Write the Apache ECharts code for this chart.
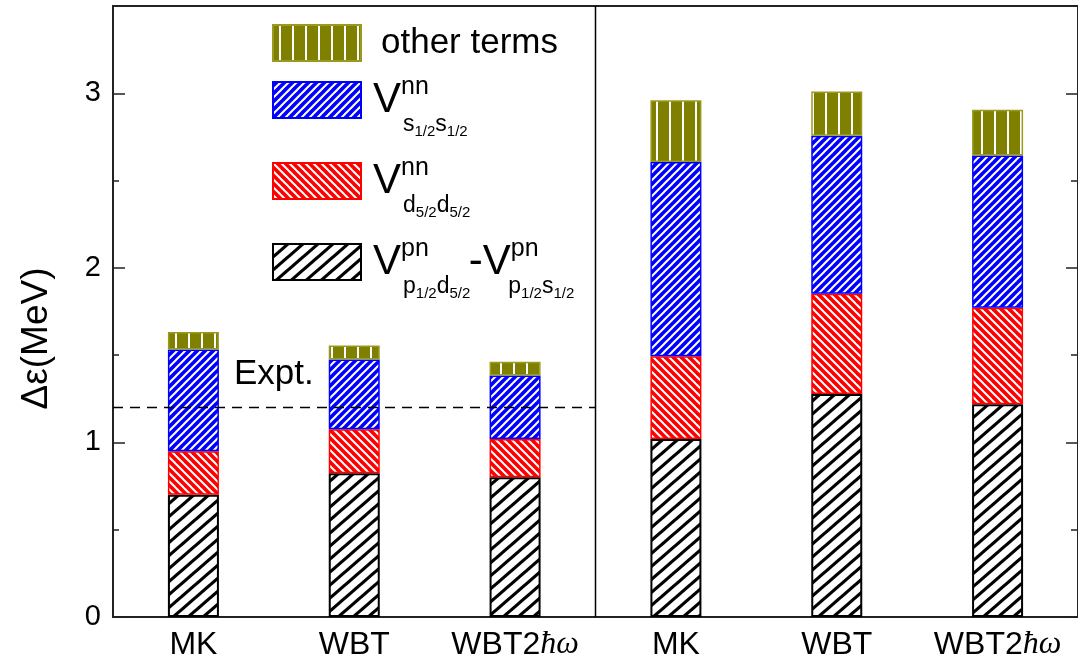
<!DOCTYPE html>
<html><head><meta charset="utf-8">
<script src="https://cdn.jsdelivr.net/npm/echarts@6/dist/echarts.min.js"></script>
<style>html,body{margin:0;padding:0;background:#fff}#c{width:1078px;height:662px}</style>
</head><body><div id="c"></div>
<script>
// ---- data ----
const categories = ['MK', 'WBT', 'WBT2ħω', 'MK', 'WBT', 'WBT2ħω'];
const vpnDiff = [0.700, 0.823, 0.800, 1.019, 1.277, 1.219];   // V^pn(p1/2 d5/2) - V^pn(p1/2 s1/2)
const vnnD52 = [0.250, 0.253, 0.219, 0.475, 0.574, 0.552];    // V^nn(d5/2 d5/2)
const vnnS12 = [0.582, 0.399, 0.365, 1.113, 0.906, 0.873];    // V^nn(s1/2 s1/2)
const otherTerms = [0.101, 0.080, 0.078, 0.353, 0.253, 0.262];
const exptValue = 1.2;
const panelSize = 3;
const majorTicks = [0, 1, 2, 3];
const minorTicks = [0.5, 1.5, 2.5];
const seriesNames = ['Vpn', 'Vdd', 'Vss', 'other terms'];

// ---- patterns ----
function hatch(bg, fg, w, h, lw, dir) {
  const c = document.createElement('canvas'); c.width = w; c.height = h;
  const g = c.getContext('2d');
  g.fillStyle = bg; g.fillRect(0, 0, w, h);
  g.strokeStyle = fg; g.lineWidth = lw;
  for (const s of [-w, 0, w]) {
    g.beginPath();
    if (dir > 0) { g.moveTo(s - w, 2 * h); g.lineTo(s + 2 * w, -h); }
    else { g.moveTo(s - w, -h); g.lineTo(s + 2 * w, 2 * h); }
    g.stroke();
  }
  return { image: c, repeat: 'repeat' };
}
function vlines(bg, fg, w, lw) {
  const c = document.createElement('canvas'); c.width = w; c.height = 4;
  const g = c.getContext('2d');
  g.fillStyle = bg; g.fillRect(0, 0, w, 4);
  g.fillStyle = fg; g.fillRect(Math.round(w / 2 - lw / 2), 0, lw, 4);
  return { image: c, repeat: 'repeat' };
}
const patBlack = hatch('#ffffff', '#000000', 15, 13, 3.2, 1);
const patRed = hatch('#ff0000', '#ffffff', 8, 8, 2, -1);
const patBlue = hatch('#0000ff', '#ffffff', 8, 8, 2, 1);
const patOlive = vlines('#808000', '#ffffff', 13, 2);

const FONT = '"Liberation Sans", Arial, sans-serif';

const legendText = {
  'other terms': '{po| }{t|other terms}',
  'Vss': '{gap| }\n{p| }{V|V}{sup|nn}\n{p| }{vw| }{s|s}{f|1/2}{s|s}{f|1/2}',
  'Vdd': '{gap| }\n{p| }{V|V}{sup|nn}\n{p| }{vw| }{s|d}{f|5/2}{s|d}{f|5/2}',
  'Vpn': '{gap| }\n{p| }{V|V}{sup|pn}{sp1| }{V|-V}{sup|pn}\n{p| }{vw| }{s|p}{f|1/2}{s|d}{f|5/2}{sw| }{s|p}{f|1/2}{s|s}{f|1/2}'
};

const chart = echarts.init(document.getElementById('c'));
const styles = [
  { color: patBlack, borderColor: '#000000', borderWidth: 2 },
  { color: patRed, borderColor: '#ff0000', borderWidth: 1.5 },
  { color: patBlue, borderColor: '#0000ff', borderWidth: 1.5 },
  { color: patOlive, borderColor: '#9a9a20', borderWidth: 1.5 }
];
const values = [vpnDiff, vnnD52, vnnS12, otherTerms];

const yBase = { type: 'value', min: 0, max: 3.5, splitLine: { show: false } };
const axisColor = '#222';
const tiny = { fontSize: 1, lineHeight: 1, height: 1 };

chart.setOption({
  animation: false,
  backgroundColor: '#fff',
  textStyle: { fontFamily: FONT },
  title: {
    text: 'Expt.', left: 234, top: 357, padding: 0,
    textStyle: { fontFamily: FONT, fontSize: 35, fontWeight: 'normal', color: '#000' }
  },
  grid: { left: 113, top: 6, width: 970, height: 611, show: true, borderColor: axisColor, borderWidth: 2, backgroundColor: 'transparent' },
  legend: {
    data: ['other terms', 'Vss', 'Vdd', 'Vpn'],
    orient: 'vertical', left: 272, top: 23, padding: 0,
    itemWidth: 88, itemHeight: 36, itemGap: -7, icon: 'rect', selectedMode: false,
    formatter: n => legendText[n],
    textStyle: {
      color: '#000', fontFamily: FONT,
      rich: {
        gap: { fontSize: 1, lineHeight: 24, height: 24 },
        po: Object.assign({ width: 15 }, tiny),
        t: { fontSize: 35, lineHeight: 40, height: 40 },
        p: Object.assign({ width: 7 }, tiny),
        sp1: Object.assign({ width: 40 }, tiny),
        V: { fontSize: 42, lineHeight: 40, height: 40, verticalAlign: 'middle' },
        sup: { fontSize: 25, lineHeight: 15, height: 15, verticalAlign: 'top' },
        vw: Object.assign({ width: 30 }, tiny),
        sw: Object.assign({ width: 38 }, tiny),
        s: { fontSize: 23, lineHeight: 9, height: 9, verticalAlign: 'top' },
        f: { fontSize: 15, lineHeight: 24, height: 24, verticalAlign: 'top' }
      }
    }
  },
  xAxis: [
    {
      type: 'category', data: categories, gridIndex: 0,
      axisTick: { show: false },
      axisLine: { lineStyle: { color: axisColor, width: 2 } },
      axisLabel: {
        interval: 0, margin: 12, color: '#000', fontSize: 32, fontFamily: FONT,
        formatter: v => v.replace('ħω', '{i|ħω}'),
        rich: { i: { fontSize: 32, fontStyle: 'italic', fontFamily: '"Liberation Serif", "DejaVu Serif", serif' } }
      }
    },
    { type: 'value', min: 0, max: categories.length, show: false, gridIndex: 0 }
  ],
  yAxis: [
    Object.assign({}, yBase, {
      position: 'left',
      name: 'Δε(MeV)', nameLocation: 'middle', nameGap: 58, nameRotate: 90,
      nameTextStyle: { fontSize: 37, color: '#000', fontFamily: FONT, padding: [0, 54, 0, 0] },
      axisLine: { show: true, lineStyle: { color: axisColor, width: 2 } },
      axisTick: { show: true, inside: true, length: 12, customValues: majorTicks, lineStyle: { color: axisColor, width: 1.5 } },
      axisLabel: { customValues: majorTicks, margin: 12, color: '#000', fontSize: 29, fontFamily: FONT }
    }),
    Object.assign({}, yBase, {
      position: 'left',
      axisLine: { show: false },
      axisTick: { show: true, inside: true, length: 6, customValues: minorTicks, lineStyle: { color: axisColor, width: 1.5 } },
      axisLabel: { show: false }
    }),
    Object.assign({}, yBase, {
      position: 'right',
      axisLine: { show: true, lineStyle: { color: axisColor, width: 2 } },
      axisTick: { show: true, inside: true, length: 12, customValues: majorTicks, lineStyle: { color: axisColor, width: 1.5 } },
      axisLabel: { show: false }
    }),
    Object.assign({}, yBase, {
      position: 'right',
      axisLine: { show: false },
      axisTick: { show: true, inside: true, length: 7, customValues: minorTicks, lineStyle: { color: axisColor, width: 1.5 } },
      axisLabel: { show: false }
    })
  ],
  series: values.map((vals, i) => ({
    name: seriesNames[i], type: 'bar', stack: 'total', barWidth: 51,
    xAxisIndex: 0, yAxisIndex: 0,
    itemStyle: styles[i],
    emphasis: { disabled: true },
    data: vals
  })).concat([
    {
      type: 'line', xAxisIndex: 1, yAxisIndex: 0, symbol: 'none', silent: true,
      lineStyle: { color: '#000', width: 1.5, type: [10, 7] },
      data: [[0, exptValue], [panelSize, exptValue]]
    },
    {
      type: 'line', xAxisIndex: 1, yAxisIndex: 0, symbol: 'none', silent: true,
      lineStyle: { color: '#000', width: 1.5 },
      data: [[panelSize, 0], [panelSize, 3.5]]
    }
  ])
});
</script>
</body></html>
